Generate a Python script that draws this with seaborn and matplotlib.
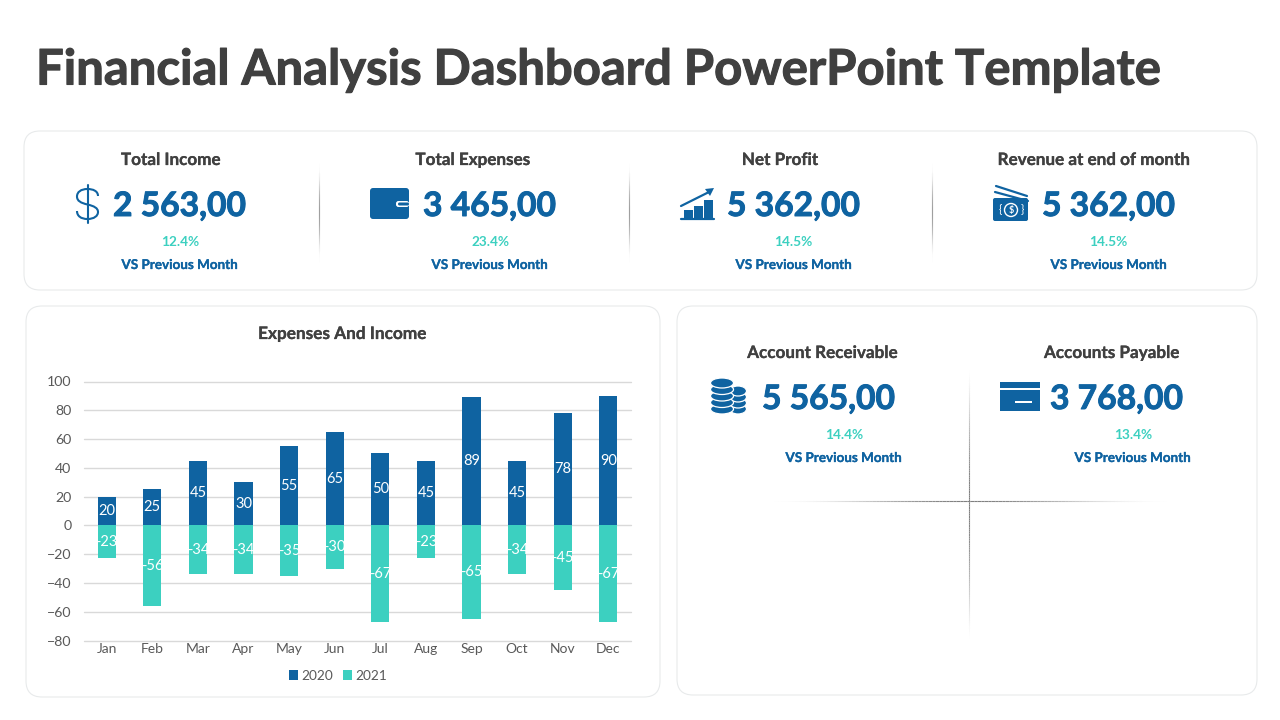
import numpy as np
import pandas as pd
import matplotlib
matplotlib.use('Agg')
import matplotlib.pyplot as plt
import matplotlib.patheffects as pe
import seaborn as sns
from matplotlib.patches import FancyBboxPatch, Rectangle, Ellipse, Polygon, Circle, PathPatch
from matplotlib.path import Path

months = ['Jan', 'Feb', 'Mar', 'Apr', 'May', 'Jun', 'Jul', 'Aug', 'Sep', 'Oct', 'Nov', 'Dec']
values_2020 = [20, 25, 45, 30, 55, 65, 50, 45, 89, 45, 78, 90]
values_2021 = [-23, -56, -34, -34, -35, -30, -67, -23, -65, -34, -45, -67]
series_names = ['2020', '2021']
y_ticks = [-80, -60, -40, -20, 0, 20, 40, 60, 80, 100]

title = 'Financial Analysis Dashboard PowerPoint Template'
chart_title = 'Expenses And Income'
compare_label = 'VS Previous Month'
kpi_names = ['Total Income', 'Total Expenses', 'Net Profit', 'Revenue at end of month']
kpi_values = ['2 563,00', '3 465,00', '5 362,00', '5 362,00']
kpi_changes = ['12.4%', '23.4%', '14.5%', '14.5%']
account_names = ['Account Receivable', 'Accounts Payable']
account_values = ['5 565,00', '3 768,00']
account_changes = ['14.4%', '13.4%']

BLUE = '#0F63A1'
TEAL = '#3CD0C0'
DARK = '#404040'
GREY = '#595959'

sns.set_theme(style='white')
plt.rcParams['font.family'] = ['Lato', 'DejaVu Sans']

fig = plt.figure(figsize=(12.8, 7.2), dpi=100, facecolor='white')

# page layer in pixel coordinates
bg = fig.add_axes([0, 0, 1, 1], zorder=0)
bg.set_xlim(0, 1280)
bg.set_ylim(720, 0)
bg.axis('off')


def card(x0, y0, x1, y1):
    bg.add_patch(FancyBboxPatch((x0 + 16, y0 + 16), x1 - x0 - 32, y1 - y0 - 32,
                                boxstyle='round,pad=16,rounding_size=16',
                                fc='white', ec='#E8EAEB', lw=0.8))


def fade_line(x0, y0, x1, y1, color='#808080', power=3):
    # thin line that fades out at both ends
    fade = np.sin(np.linspace(0, np.pi, 120)) ** power
    xs = np.linspace(x0, x1, 121)
    ys = np.linspace(y0, y1, 121)
    for i in range(120):
        bg.plot([xs[i], xs[i + 1]], [ys[i], ys[i + 1]], color=color,
                lw=0.8, alpha=float(fade[i]), solid_capstyle='butt')


def heavy(txt, color, width=0.5):
    txt.set_path_effects([pe.withStroke(linewidth=width, foreground=color)])


def tile(name, value, change, name_x, name_y, value_x, change_x, label_x):
    heavy(bg.text(name_x, name_y, name, ha='center', va='center', fontsize=12.3,
                  fontweight='bold', color=DARK), DARK, 0.2)
    heavy(bg.text(value_x, name_y + 46, value, ha='left', va='center', fontsize=24.2,
                  fontweight='bold', color=BLUE), BLUE, 0.7)
    bg.text(change_x, name_y + 82, change, ha='center', va='center', fontsize=9.8,
            fontweight='bold', color=TEAL)
    heavy(bg.text(label_x, name_y + 105, compare_label, ha='center', va='center', fontsize=9.7,
                  fontweight='bold', color=BLUE), BLUE, 0.2)


card(24, 131, 1257, 290)
card(26, 306, 660, 697)
card(677, 306, 1257, 695)

heavy(bg.text(36, 70, title, ha='left', va='center', fontsize=35.3, fontweight='bold', color=DARK),
      DARK, 0.8)

name_xs = [171, 473, 780, 1094]
value_xs = [113, 423, 727, 1042]
change_xs = [180, 490, 793, 1108]
label_xs = [180, 490, 794, 1109]
for i in range(4):
    tile(kpi_names[i], kpi_values[i], kpi_changes[i], name_xs[i], 160,
         value_xs[i], change_xs[i], label_xs[i])

acc_name_xs = [823, 1112]
acc_value_xs = [762, 1050]
acc_change_xs = [844, 1133]
acc_label_xs = [844, 1133]
for i in range(2):
    tile(account_names[i], account_values[i], account_changes[i], acc_name_xs[i], 353,
         acc_value_xs[i], acc_change_xs[i], acc_label_xs[i])

for x in [318.5, 628.5, 931.5]:
    fade_line(x, 158, x, 266)
fade_line(968.5, 368, 968.5, 640, power=1.5)
fade_line(760, 500.5, 1180, 500.5, power=2.5)

heavy(bg.text(342.5, 334, chart_title, ha='center', va='center', fontsize=12.4, fontweight='bold',
              color=DARK), DARK, 0.2)

# dollar icon
s_curve = [(98, 196), (98, 191), (93, 189), (87.5, 189), (81, 189), (77, 192), (77, 196.5),
           (77, 201), (81, 203), (87.5, 204.5), (94, 206), (98, 208), (98, 212),
           (98, 216), (94, 219), (87.5, 219), (81, 219), (77, 216), (77, 211)]
s_codes = [Path.MOVETO] + [Path.CURVE4] * 18
bg.add_patch(PathPatch(Path(s_curve, s_codes), fc='none', ec=BLUE, lw=1.5))
bg.plot([87.5, 87.5], [185, 223], color=BLUE, lw=1.5)

# wallet icon
bg.add_patch(FancyBboxPatch((372, 190), 35, 27, boxstyle='round,pad=2,rounding_size=3', fc=BLUE, ec='none'))
bg.add_patch(FancyBboxPatch((396, 201), 13, 6, boxstyle='round,pad=0,rounding_size=2.5', fc='white', ec='none'))
bg.add_patch(FancyBboxPatch((398, 202.5), 11, 3, boxstyle='round,pad=0,rounding_size=1.5', fc=BLUE, ec='none'))

# growth icon
for x, top in [(684, 210), (694, 206), (704, 200)]:
    bg.add_patch(Rectangle((x, top), 8.5, 218 - top, fc=BLUE, ec='none'))
bg.plot([681, 714], [219, 219], color=BLUE, lw=1.6)
bg.plot([681, 711], [206, 191], color=BLUE, lw=1.6)
bg.add_patch(Polygon([[714, 188], [705, 189], [710, 196]], fc=BLUE, ec='none'))

# bank note icon
bg.plot([996, 1027], [186, 196], color=BLUE, lw=1.6)
bg.plot([995, 1028], [192, 201], color=BLUE, lw=1.6)
bg.add_patch(FancyBboxPatch((994, 199), 33, 21, boxstyle='round,pad=1,rounding_size=2', fc=BLUE, ec='none'))
bg.add_patch(Circle((1011, 210), 6.5, fc='none', ec='white', lw=1))
bg.text(1011, 210, '$', ha='center', va='center', fontsize=6.5, color='white', fontweight='bold')
bg.text(1000, 210, '{', ha='center', va='center', fontsize=8, color='white')
bg.text(1022, 210, '}', ha='center', va='center', fontsize=8, color='white')

# coins icon
for cx, ys, w in [(738, [409, 403, 397, 391], 17), (722, [409, 402.5, 396, 389.5, 383], 23)]:
    for y in ys:
        bg.add_patch(Ellipse((cx, y), w, 10, fc=BLUE, ec='white', lw=0.9))

# card icon
bg.add_patch(Rectangle((1000, 382), 40, 29, fc=BLUE, ec='none'))
bg.add_patch(Rectangle((1000, 388), 40, 1.6, fc='white', ec='none'))
bg.add_patch(Rectangle((1015, 401), 17, 2.4, fc='white', ec='none'))

# bar chart, axes box placed on the reference pixels
ax_l, ax_r, ax_t, ax_b = 84, 631, 381.5, 640.5
ax = fig.add_axes([ax_l / 1280, 1 - ax_b / 720, (ax_r - ax_l) / 1280, (ax_b - ax_t) / 720], zorder=2)
ax.patch.set_alpha(0)

df = pd.DataFrame({'month': months * 2,
                   'value': values_2020 + values_2021,
                   'year': [series_names[0]] * 12 + [series_names[1]] * 12})
sns.barplot(data=df, x='month', y='value', hue='year', order=months, hue_order=series_names,
            palette=[BLUE, TEAL], dodge=False, width=0.4, saturation=1, linewidth=0,
            edgecolor='none', ax=ax, zorder=3)

ax.set_xlim(-0.5, 11.5)
ax.set_ylim(-80, 100)
ax.set_yticks(y_ticks)
ax.set_xlabel('')
ax.set_ylabel('')
ax.grid(axis='y', color='#D9D9D9', lw=1)
for gl in ax.get_ygridlines():
    gl.set_clip_on(False)
ax.set_axisbelow(True)
sns.despine(ax=ax, left=True, bottom=True)
ax.tick_params(axis='x', length=0, labelsize=10, labelcolor=GREY, pad=2)
ax.tick_params(axis='y', length=0, labelsize=10.2, labelcolor=GREY, pad=9)

for c in ax.containers:
    ax.bar_label(c, label_type='center', color='white', fontsize=10.5, zorder=5)

handles, labels = ax.get_legend_handles_labels()
ax.legend(handles, labels, loc='center', bbox_to_anchor=(338 / 1280, 1 - 676 / 720),
          bbox_transform=fig.transFigure, ncol=2, frameon=False, fontsize=9.8,
          labelcolor=GREY, handlelength=0.7, handleheight=0.7, handletextpad=0.25,
          columnspacing=0.7)

fig.savefig('out.png', dpi=100)
